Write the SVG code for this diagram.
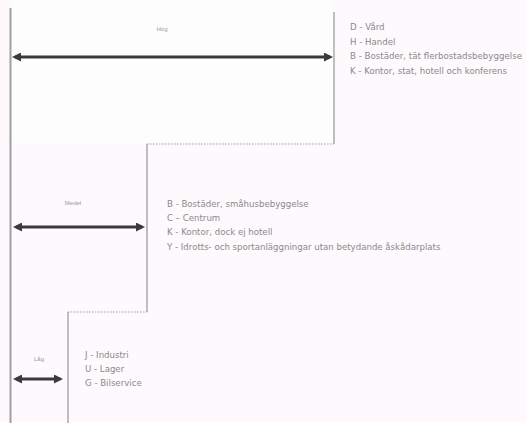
<svg xmlns="http://www.w3.org/2000/svg" width="526" height="423" viewBox="0 0 526 423">
<defs>
<marker id="ah" markerWidth="9" markerHeight="9" refX="6" refY="4.5" orient="auto-start-reverse" markerUnits="userSpaceOnUse">
<path d="M0,0 L9,4.5 L0,9 Z" fill="#3a3a3a"/>
</marker>
<style>
.t{font-family:"DejaVu Sans","Liberation Sans",sans-serif;font-size:8.6px;fill:#8a8a8a}
.lbl{font-family:"Liberation Sans",Arial,sans-serif;font-size:6px;fill:#9a9a9a}
.v{stroke:#a0a0a0;stroke-width:1.3;fill:none}
.d{stroke:#a0a0a0;stroke-width:1.2;stroke-dasharray:1.5 1.5;fill:none}
.arr{stroke:#3a3a3a;stroke-width:3;fill:none;marker-start:url(#ah);marker-end:url(#ah)}
</style>
</defs>
<rect width="526" height="423" fill="#fdf9fc"/>
<rect x="11" y="0" width="322" height="143" fill="#fefdfe"/>
<g id="connectors">
<line class="v" x1="10.5" y1="8" x2="10.5" y2="423" style="stroke-width:2"/>
<line class="v" x1="334" y1="12" x2="334" y2="144"/>
<line class="d" x1="147" y1="144" x2="334" y2="144"/>
<line class="v" x1="147" y1="144" x2="147" y2="312"/>
<line class="d" x1="68" y1="312" x2="147" y2="312"/>
<line class="v" x1="68" y1="312" x2="68" y2="423"/>
<line class="arr" x1="15" y1="57" x2="330" y2="57"/>
<line class="arr" x1="16" y1="227" x2="142" y2="227"/>
<line class="arr" x1="16" y1="379" x2="60" y2="379"/>
</g>
<g id="label-high"><text class="lbl" x="162" y="31" text-anchor="middle">Hög</text></g>
<g id="label-mid"><text class="lbl" x="73" y="205" text-anchor="middle">Medel</text></g>
<g id="label-low"><text class="lbl" x="39" y="361" text-anchor="middle">Låg</text></g>
<g id="group-high">
<text class="t" x="350" y="30">D - Vård</text>
<text class="t" x="350" y="45">H - Handel</text>
<text class="t" x="350" y="59" textLength="172" lengthAdjust="spacingAndGlyphs">B - Bostäder, tät flerbostadsbebyggelse</text>
<text class="t" x="350" y="74">K - Kontor, stat, hotell och konferens</text>
</g>
<g id="group-mid">
<text class="t" x="167" y="207">B - Bostäder, småhusbebyggelse</text>
<text class="t" x="167" y="221">C – Centrum</text>
<text class="t" x="167" y="235">K - Kontor, dock ej hotell</text>
<text class="t" x="167" y="250">Y - Idrotts- och sportanläggningar utan betydande åskådarplats</text>
</g>
<g id="group-low">
<text class="t" x="85" y="358">J - Industri</text>
<text class="t" x="85" y="372">U - Lager</text>
<text class="t" x="85" y="386">G - Bilservice</text>
</g>
</svg>
